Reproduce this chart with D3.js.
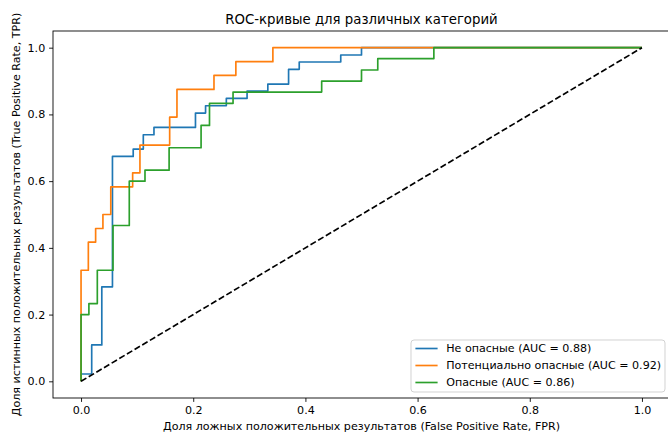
<!DOCTYPE html>
<html>
<head>
<meta charset="utf-8">
<script src="https://cdn.jsdelivr.net/npm/d3@7"></script>
<style>
  html, body { margin: 0; padding: 0; background: #fff; }
  svg { display: block; font-family: "DejaVu Sans", sans-serif; }
</style>
</head>
<body>
<svg id="chart" width="668" height="432"></svg>
<script>
// ---- Data ----
const seriesNames = ["Не опасные (AUC = 0.88)", "Потенциально опасные (AUC = 0.92)", "Опасные (AUC = 0.86)"];
const seriesColors = ["#1f77b4", "#ff7f0e", "#2ca02c"];

const fprNe = [0, 0, 0.019, 0.019, 0.037, 0.037, 0.056, 0.056, 0.093, 0.093, 0.111, 0.111, 0.130, 0.130, 0.204, 0.204, 0.222, 0.222, 0.259, 0.259, 0.296, 0.296, 0.333, 0.333, 0.370, 0.370, 0.389, 0.389, 0.463, 0.463, 0.500, 0.500, 1.0];
const tprNe = [0, 0.022, 0.022, 0.109, 0.109, 0.283, 0.283, 0.674, 0.674, 0.696, 0.696, 0.739, 0.739, 0.761, 0.761, 0.804, 0.804, 0.826, 0.826, 0.848, 0.848, 0.870, 0.870, 0.891, 0.891, 0.935, 0.935, 0.957, 0.957, 0.978, 0.978, 1.0, 1.0];

const fprPot = [0, 0, 0.013, 0.013, 0.026, 0.026, 0.039, 0.039, 0.053, 0.053, 0.092, 0.092, 0.105, 0.105, 0.158, 0.158, 0.171, 0.171, 0.237, 0.237, 0.276, 0.276, 0.342, 0.342, 1.0];
const tprPot = [0, 0.333, 0.333, 0.417, 0.417, 0.458, 0.458, 0.500, 0.500, 0.583, 0.583, 0.625, 0.625, 0.708, 0.708, 0.792, 0.792, 0.875, 0.875, 0.917, 0.917, 0.958, 0.958, 1.0, 1.0];

const fprOp = [0, 0, 0.014, 0.014, 0.029, 0.029, 0.057, 0.057, 0.086, 0.086, 0.114, 0.114, 0.157, 0.157, 0.214, 0.214, 0.229, 0.229, 0.271, 0.271, 0.429, 0.429, 0.500, 0.500, 0.529, 0.529, 0.629, 0.629, 1.0];
const tprOp = [0, 0.200, 0.200, 0.233, 0.233, 0.333, 0.333, 0.467, 0.467, 0.600, 0.600, 0.633, 0.633, 0.700, 0.700, 0.767, 0.767, 0.833, 0.833, 0.867, 0.867, 0.900, 0.900, 0.933, 0.933, 0.967, 0.967, 1.0, 1.0];

const diagX = [0, 1];
const diagY = [0, 1];

const xTicks = [0.0, 0.2, 0.4, 0.6, 0.8, 1.0];
const yTicks = [0.0, 0.2, 0.4, 0.6, 0.8, 1.0];

const titleText = "ROC-кривые для различных категорий";
const xLabelText = "Доля ложных положительных результатов (False Positive Rate, FPR)";
const yLabelText = "Доля истинных положительных результатов (True Positive Rate, TPR)";

(function () {
// ---- Layout ----
const svg = d3.select("#chart");
const mLeft = 53, mTop = 31, mRight = 670, mBottom = 398;
const fontSize = 11.1;
const lw = 1.67;

const x = d3.scaleLinear().domain([-0.05, 1.05]).range([mLeft, mRight]);
const y = d3.scaleLinear().domain([-0.05, 1.05]).range([mBottom, mTop]);

const series = [
  { xs: fprNe, ys: tprNe },
  { xs: fprPot, ys: tprPot },
  { xs: fprOp, ys: tprOp }
];

const line = d3.line().x(d => x(d[0])).y(d => y(d[1]));

const plot = svg.append("g");

series.forEach((s, i) => {
  const pts = s.xs.map((v, k) => [v, s.ys[k]]);
  plot.append("path")
    .attr("d", line(pts))
    .attr("fill", "none")
    .attr("stroke", seriesColors[i])
    .attr("stroke-width", lw)
    .attr("stroke-linejoin", "round")
    .attr("stroke-linecap", "butt");
});

plot.append("path")
  .attr("d", line(diagX.map((v, k) => [v, diagY[k]])))
  .attr("fill", "none")
  .attr("stroke", "#000")
  .attr("stroke-width", lw)
  .attr("stroke-dasharray", "6.2,2.7");

// ---- Axes ----
const xAxis = d3.axisBottom(x).tickValues(xTicks).tickFormat(d3.format(".1f")).tickSize(3.9).tickPadding(3.9);
const yAxis = d3.axisLeft(y).tickValues(yTicks).tickFormat(d3.format(".1f")).tickSize(3.9).tickPadding(3.9);

const gx = svg.append("g").attr("transform", `translate(0,${mBottom})`).call(xAxis);
const gy = svg.append("g").attr("transform", `translate(${mLeft},0)`).call(yAxis);
[gx, gy].forEach(g => {
  g.select(".domain").remove();
  g.selectAll(".tick line").attr("stroke", "#000").attr("stroke-width", 0.89);
  g.selectAll(".tick text").attr("fill", "#000")
    .style("font-family", "DejaVu Sans, sans-serif").style("font-size", fontSize + "px");
});

// spines
svg.append("rect")
  .attr("x", mLeft).attr("y", mTop)
  .attr("width", mRight - mLeft).attr("height", mBottom - mTop)
  .attr("fill", "none").attr("stroke", "#000").attr("stroke-width", 0.89);

// ---- Titles ----
svg.append("text")
  .attr("x", (mLeft + mRight) / 2).attr("y", 24)
  .attr("text-anchor", "middle")
  .style("font-size", "13.3px").attr("fill", "#000")
  .text(titleText);

svg.append("text")
  .attr("x", (mLeft + mRight) / 2).attr("y", 429.5)
  .attr("text-anchor", "middle")
  .style("font-size", fontSize + "px").attr("fill", "#000")
  .text(xLabelText);

svg.append("text")
  .attr("transform", `translate(20,${(mTop + mBottom) / 2}) rotate(-90)`)
  .attr("text-anchor", "middle")
  .style("font-size", fontSize + "px").attr("fill", "#000")
  .text(yLabelText);

// ---- Legend ----
const lg = svg.append("g");
const lgX = 411, lgY = 340, lgW = 254, lgH = 52;
lg.append("rect")
  .attr("x", lgX).attr("y", lgY).attr("width", lgW).attr("height", lgH)
  .attr("rx", 3).attr("ry", 3)
  .attr("fill", "#fff").attr("fill-opacity", 0.8)
  .attr("stroke", "#cccccc").attr("stroke-width", 0.89);

seriesNames.forEach((name, i) => {
  const cy = lgY + 8.5 + i * 17;
  lg.append("line")
    .attr("x1", lgX + 4.4).attr("x2", lgX + 26.6)
    .attr("y1", cy).attr("y2", cy)
    .attr("stroke", seriesColors[i]).attr("stroke-width", lw);
  lg.append("text")
    .attr("x", lgX + 35.2).attr("y", cy)
    .attr("dy", "0.35em")
    .style("font-size", fontSize + "px").attr("fill", "#000")
    .text(name);
});
})();
</script>
</body>
</html>
